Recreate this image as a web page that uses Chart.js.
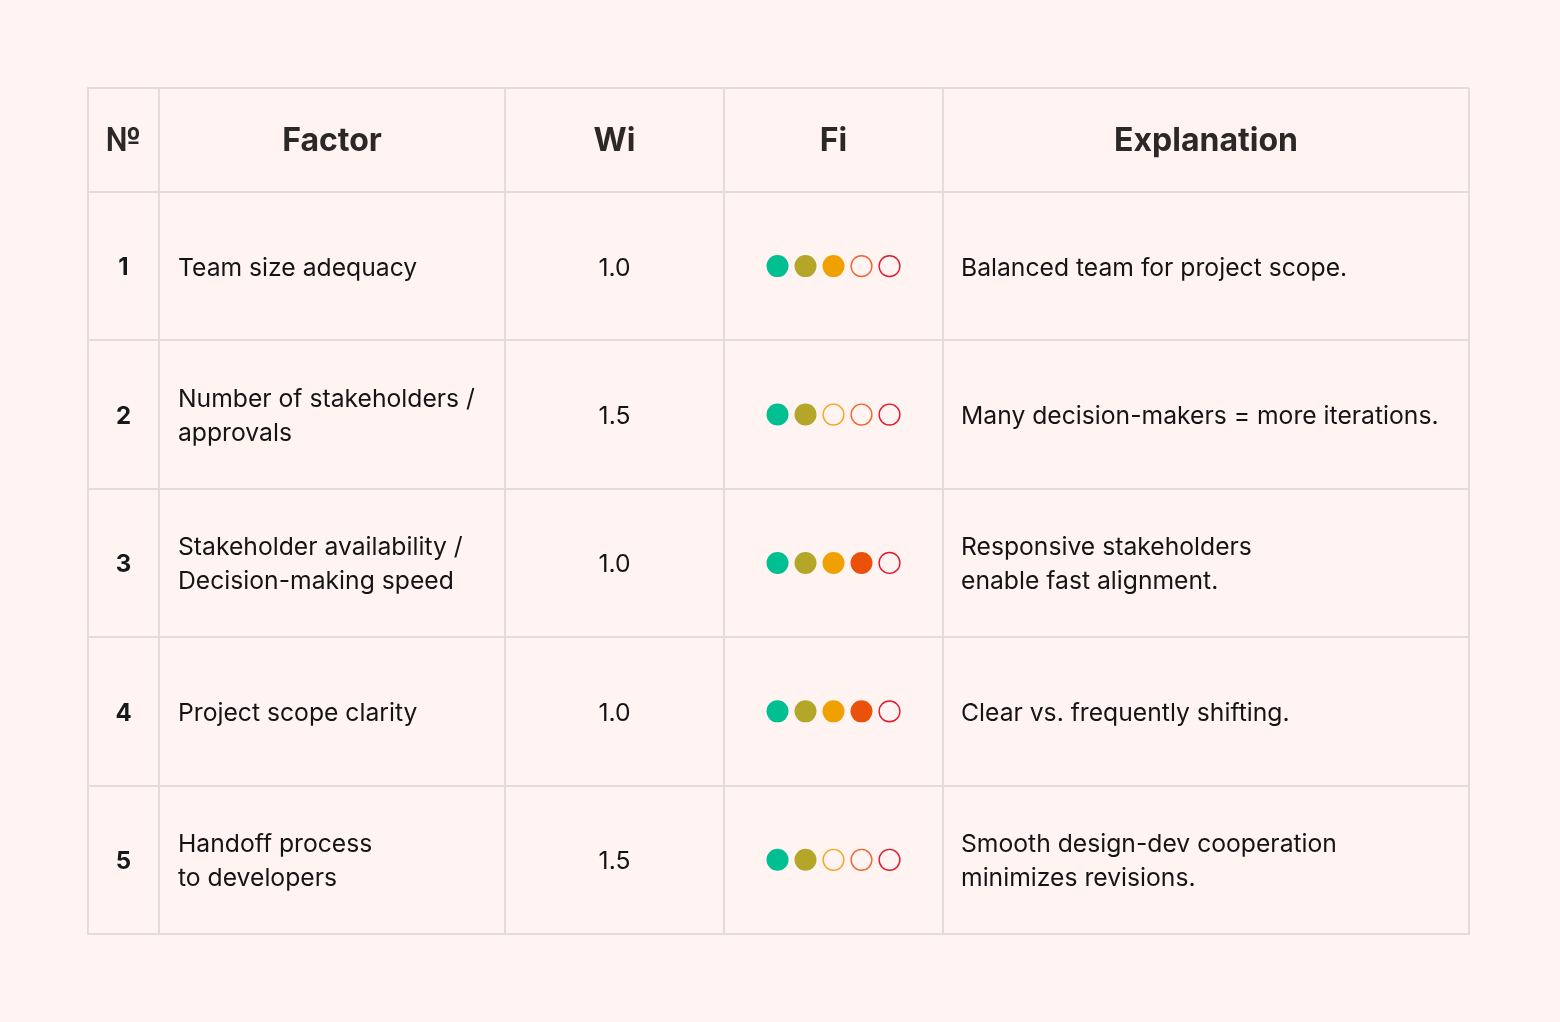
<!DOCTYPE html>
<html>
<head>
<meta charset="utf-8">
<script src="https://cdn.jsdelivr.net/npm/chart.js@4/dist/chart.umd.min.js"></script>
<style>
  html, body { margin: 0; padding: 0; background: #fff4f2; }
  canvas { display: block; }
</style>
</head>
<body>
<canvas id="factorTable" width="1560" height="1022"></canvas>
<script>
      // DATA
      const headers = ["№", "Factor", "Wi", "Fi", "Explanation"];
      const rowNumbers = ["1", "2", "3", "4", "5"];
      const factors = [
        ["Team size adequacy"],
        ["Number of stakeholders /", "approvals"],
        ["Stakeholder availability /", "Decision-making speed"],
        ["Project scope clarity"],
        ["Handoff process", "to developers"],
      ];
      const weights = [1.0, 1.5, 1.0, 1.0, 1.5];
      const fiScores = [3, 2, 4, 4, 2];
      const explanations = [
        ["Balanced team for project scope."],
        ["Many decision-makers = more iterations."],
        ["Responsive stakeholders", "enable fast alignment."],
        ["Clear vs. frequently shifting."],
        ["Smooth design-dev cooperation", "minimizes revisions."],
      ];
      const dotColors = ["#00bf91", "#b3a629", "#f0a000", "#ea520c", "#e4192b"];
      const outlineColors = ["#00bf91", "#b3a629", "#f5a623", "#f26430", "#e4192b"];

      // LAYOUT (column edges in px units, rows in row units)
      const colEdges = [0, 71, 417, 636, 855, 1381];
      const headerH = 0.7;
      const rowEdges = [0, ...rowNumbers.map((_, i) => headerH + i), headerH + rowNumbers.length];
      const fiCenter = (colEdges[3] + colEdges[4]) / 2;
      const dotGap = 28;
      const gridColor = "#e3dcdb";

      const colCenter = (c) => (colEdges[c] + colEdges[c + 1]) / 2;
      const rowCenter = (i) => headerH + i + 0.5;

      const datasets = dotColors.map((color, k) => ({
        label: "dot " + (k + 1),
        data: fiScores.map((s, i) => ({ x: fiCenter + (k - 2) * dotGap, y: rowCenter(i) })),
        showLine: false,
        pointRadius: (c) => (fiScores[c.dataIndex] > k ? 11 : 10.4),
        pointHoverRadius: (c) => (fiScores[c.dataIndex] > k ? 11 : 10.4),
        pointBackgroundColor: (c) => (fiScores[c.dataIndex] > k ? color : "transparent"),
        pointBorderColor: outlineColors[k],
        pointBorderWidth: (c) => (fiScores[c.dataIndex] > k ? 0 : 1.4),
      }));

      // TEXT
      const tableText = {
        id: "tableText",
        afterDatasetsDraw(chart) {
          const { ctx, scales: { x, y } } = chart;
          const lineH = 34;
          const drawLines = (lines, px, py) => {
            const top = py - ((lines.length - 1) * lineH) / 2;
            lines.forEach((t, j) => ctx.fillText(t, px, top + j * lineH));
          };
          ctx.save();
          ctx.textBaseline = "middle";

          ctx.font = "700 32px Inter";
          ctx.fillStyle = "#2b2827";
          ctx.textAlign = "center";
          headers.forEach((h, c) => {
            ctx.fillText(h, x.getPixelForValue(colCenter(c)), y.getPixelForValue(headerH / 2) + 1);
          });

          rowNumbers.forEach((n, i) => {
            const py = y.getPixelForValue(rowCenter(i)) + 2;
            ctx.textAlign = "center";
            ctx.font = "700 24px Inter";
            ctx.fillStyle = "#141a1c";
            ctx.fillText(n, x.getPixelForValue(colCenter(0)), py);

            ctx.font = "400 24.7px Inter";
            ctx.fillStyle = "#141414";
            ctx.fillText(weights[i].toFixed(1), x.getPixelForValue(colCenter(2)), py);

            ctx.textAlign = "left";
            drawLines(factors[i], x.getPixelForValue(colEdges[1]) + 19, py);
            drawLines(explanations[i], x.getPixelForValue(colEdges[4]) + 18, py);
          });
          ctx.restore();
        },
      };

      new Chart(document.getElementById("factorTable").getContext("2d"), {
        type: "scatter",
        data: { datasets },
        options: {
          responsive: false,
          animation: false,
          layout: { padding: { left: 88, top: 88, right: 91, bottom: 88 } },
          plugins: {
            legend: { display: false },
            tooltip: { enabled: false },
          },
          scales: {
            x: {
              type: "linear",
              min: colEdges[0],
              max: colEdges[colEdges.length - 1],
              afterBuildTicks: (axis) => {
                axis.ticks = colEdges.map((v) => ({ value: v }));
              },
              ticks: { display: false },
              grid: { color: gridColor, lineWidth: 2, drawTicks: false },
              border: { color: gridColor, width: 2 },
            },
            y: {
              type: "linear",
              reverse: true,
              min: rowEdges[0],
              max: rowEdges[rowEdges.length - 1],
              afterBuildTicks: (axis) => {
                axis.ticks = rowEdges.map((v) => ({ value: v }));
              },
              ticks: { display: false },
              grid: { color: gridColor, lineWidth: 2, drawTicks: false },
              border: { color: gridColor, width: 2 },
            },
          },
        },
        plugins: [tableText],
      });
</script>
</body>
</html>
